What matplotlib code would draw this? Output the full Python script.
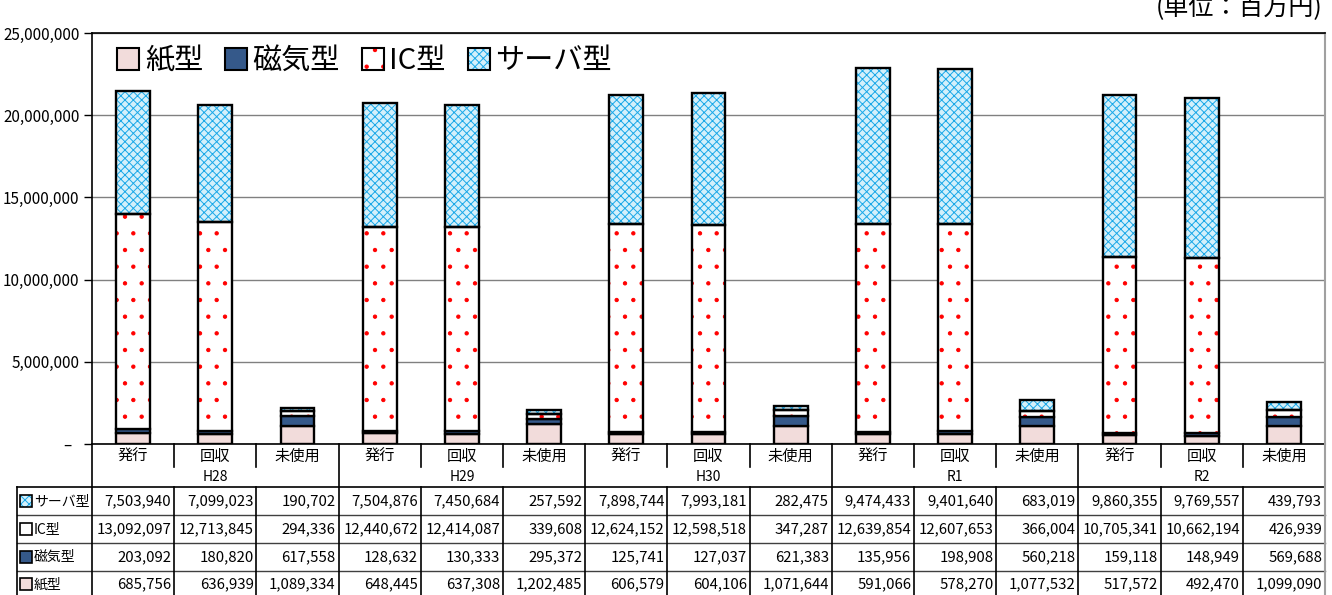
import numpy as np
import matplotlib.pyplot as plt
from matplotlib.patches import Patch, Rectangle
from matplotlib.lines import Line2D
from matplotlib.transforms import blended_transform_factory
from matplotlib.ticker import FuncFormatter

plt.rcParams['font.family'] = ['Noto Sans CJK JP', 'DejaVu Sans']
plt.rcParams['hatch.linewidth'] = 0.7

# data (単位：百万円)
years = ['H28', 'H29', 'H30', 'R1', 'R2']
kinds = ['発行', '回収', '未使用']
server = [7503940, 7099023, 190702, 7504876, 7450684, 257592, 7898744, 7993181, 282475,
          9474433, 9401640, 683019, 9860355, 9769557, 439793]
ic = [13092097, 12713845, 294336, 12440672, 12414087, 339608, 12624152, 12598518, 347287,
      12639854, 12607653, 366004, 10705341, 10662194, 426939]
mag = [203092, 180820, 617558, 128632, 130333, 295372, 125741, 127037, 621383,
       135956, 198908, 560218, 159118, 148949, 569688]
paper = [685756, 636939, 1089334, 648445, 637308, 1202485, 606579, 604106, 1071644,
         591066, 578270, 1077532, 517572, 492470, 1099090]

c_paper = '#F2DCDB'
c_mag = '#35598A'
c_dot = '#FF0000'
c_srv = '#1AA8E8'
c_srv_bg = '#D4F0FB'

W, H = 1332, 595
fig = plt.figure(figsize=(W / 100, H / 100), dpi=100)
ax = fig.add_axes([92 / W, 1 - 444 / H, (1325 - 92) / W, (444 - 33) / H])


def fy(py):
    return 1 - py / H


x = np.arange(len(paper))
bw = 0.41
lw = 1.7
paper = np.array(paper)
mag = np.array(mag)
ic = np.array(ic)
server = np.array(server)

ax.bar(x, paper, bw, color=c_paper, edgecolor='black', lw=lw, zorder=3)
ax.bar(x, mag, bw, bottom=paper, color=c_mag, edgecolor='black', lw=lw, zorder=3)
b2 = paper + mag
ax.bar(x, ic, bw, bottom=b2, color='white', edgecolor=c_dot, hatch='.', lw=0, zorder=3)
ax.bar(x, ic, bw, bottom=b2, color='none', edgecolor='black', lw=lw, zorder=4)
b3 = b2 + ic
ax.bar(x, server, bw, bottom=b3, color=c_srv_bg, edgecolor=c_srv, hatch='xxxx', lw=0, zorder=3)
ax.bar(x, server, bw, bottom=b3, color='none', edgecolor='black', lw=lw, zorder=4)

ax.set_xlim(-0.5, len(paper) - 0.5)
ax.set_ylim(0, 25000000)
ax.set_yticks(np.arange(0, 25000001, 5000000))
ax.yaxis.set_major_formatter(FuncFormatter(lambda v, p: '–  ' if v == 0 else f'{v:,.0f}'))
ax.set_xticks([])
ax.tick_params(axis='y', direction='out', length=6, width=1, labelsize=11, pad=3)
ax.grid(axis='y', color='#808080', lw=1, zorder=0)
for s in ['top', 'left', 'bottom']:
    ax.spines[s].set_color('black')
    ax.spines[s].set_linewidth(1.2)
ax.spines['right'].set_color('#A0A0A0')
ax.spines['right'].set_linewidth(1.5)

# legend
h_paper = Patch(facecolor=c_paper, edgecolor='black', lw=1.5)
h_mag = Patch(facecolor=c_mag, edgecolor='black', lw=1.5)
h_ic = (Patch(facecolor='white', edgecolor=c_dot, hatch='.', lw=0),
        Patch(facecolor='none', edgecolor='black', lw=1.5))
h_srv = (Patch(facecolor=c_srv_bg, edgecolor=c_srv, hatch='xxxx', lw=0),
         Patch(facecolor='none', edgecolor='black', lw=1.5))
fig.legend([h_paper, h_mag, h_ic, h_srv], ['紙型', '磁気型', 'IC型', 'サーバ型'],
           loc='center left', bbox_to_anchor=(117 / W, fy(61)), ncol=4, frameon=False,
           fontsize=21, handlelength=0.75, handleheight=0.75, handletextpad=0.2,
           columnspacing=0.75, borderpad=0, borderaxespad=0)

# unit label
fig.text(1322 / W, fy(14), '(単位：百万円)', ha='right', va='baseline', fontsize=18)

# data table under the chart
trans = blended_transform_factory(ax.transData, fig.transFigure)
n = len(paper)


def hline(y, x0, x1, color='black', w=1.2):
    fig.add_artist(Line2D([x0 / W, x1 / W], [fy(y), fy(y)], color=color, lw=w,
                          transform=fig.transFigure))


def vline(xd, y0, y1, color='black', w=1.2):
    fig.add_artist(Line2D([xd, xd], [fy(y0), fy(y1)], color=color, lw=w, transform=trans))


hline(487, 17, 1325)
for yy in [515, 543, 571]:
    hline(yy, 17, 1325, color='#404040', w=1.0)
fig.add_artist(Line2D([17 / W, 17 / W], [fy(487), fy(595)], color='black', lw=1.2,
                      transform=fig.transFigure))
vline(-0.5, 444, 595)
vline(n - 0.5, 444, 595, color='#A0A0A0', w=1.5)
for k in range(1, n):
    if k % 3 == 0:
        vline(k - 0.5, 444, 595)
    else:
        vline(k - 0.5, 444, 467)
        vline(k - 0.5, 487, 595)

for i in range(n):
    fig.text(i, fy(456), kinds[i % 3], ha='center', va='center', fontsize=11, transform=trans)
for j, yr in enumerate(years):
    fig.text(3 * j + 1, fy(477), yr, ha='center', va='center', fontsize=10, transform=trans)

rows = [('サーバ型', server), ('IC型', ic), ('磁気型', mag), ('紙型', paper)]
row_y = [501, 529, 557, 584]
for (label, vals), yy in zip(rows, row_y):
    for i, v in enumerate(vals):
        fig.text(i + 0.465, fy(yy), f'{v:,}', ha='right', va='center', fontsize=10.8,
                 transform=trans)
    fig.text(34 / W, fy(yy), label, ha='left', va='center', fontsize=10)

# small legend keys in the row headers
key = dict(width=12 / W, height=12 / H, transform=fig.transFigure)
fig.add_artist(Rectangle((20 / W, fy(507)), facecolor=c_srv_bg, edgecolor=c_srv, hatch='xxxx', lw=0, **key))
fig.add_artist(Rectangle((20 / W, fy(507)), facecolor='none', edgecolor='black', lw=1.2, **key))
fig.add_artist(Rectangle((20 / W, fy(535)), facecolor='white', edgecolor=c_dot, hatch='.', lw=0, **key))
fig.add_artist(Rectangle((20 / W, fy(535)), facecolor='none', edgecolor='black', lw=1.2, **key))
fig.add_artist(Rectangle((20 / W, fy(563)), facecolor=c_mag, edgecolor='black', lw=1.2, **key))
fig.add_artist(Rectangle((20 / W, fy(590)), facecolor=c_paper, edgecolor='black', lw=1.2, **key))

fig.savefig('out.png', dpi=100)
